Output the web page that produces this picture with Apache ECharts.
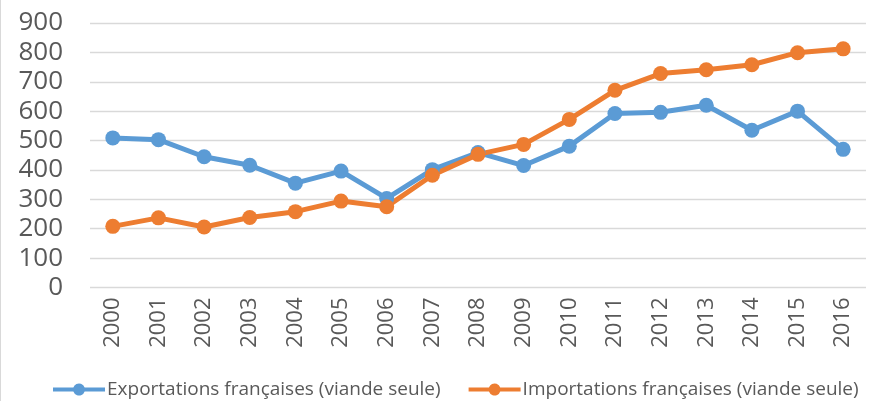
<!DOCTYPE html>
<html>
<head>
<meta charset="utf-8">
<script src="https://cdn.jsdelivr.net/npm/echarts@6/dist/echarts.min.js"></script>
<style>
  html, body { margin: 0; padding: 0; background: #fff; }
  #chart { width: 876px; height: 401px; box-sizing: border-box; border-left: 1px solid #d9d9d9; }
</style>
</head>
<body>
<div id="chart"></div>
<script>
// années
const years = ['2000', '2001', '2002', '2003', '2004', '2005', '2006', '2007', '2008',
  '2009', '2010', '2011', '2012', '2013', '2014', '2015', '2016'];
// valeurs
const exportations = [509, 503, 445, 416, 355, 396, 303, 401, 459, 415, 481, 592, 596, 620, 535, 600, 470];
const importations = [208, 237, 206, 238, 258, 294, 275, 382, 453, 487, 572, 671, 728, 741, 758, 799, 812];
const yTicks = [0, 100, 200, 300, 400, 500, 600, 700, 800, 900];

const chart = echarts.init(document.getElementById('chart'));
chart.setOption({
  animation: false,
  grid: {
    top: 23,
    left: 89,
    right: 10,
    bottom: 113.5
  },
  legend: {
    top: 375,
    left: 47,
    width: 860,
    itemGap: 28,
    itemWidth: 52,
    itemHeight: 14,
    icon: 'path://M0,5 L20.34,5 A6,6 0 0 1 31.66,5 L52,5 L52,9 L31.66,9 A6,6 0 0 1 20.34,9 L0,9 Z',
    textStyle: {
      fontFamily: 'Open Sans, sans-serif',
      fontSize: 19,
      color: '#595959',
      padding: [0, 0, 0, -3]
    },
    data: ['Exportations françaises (viande seule)', 'Importations françaises (viande seule)']
  },
  xAxis: {
    type: 'category',
    data: years,
    boundaryGap: true,
    axisLine: { show: false },
    axisTick: { show: false },
    axisLabel: {
      rotate: 90,
      margin: 10,
      fontSize: 22,
      color: '#595959',
      fontFamily: 'Open Sans, sans-serif'
    }
  },
  yAxis: {
    type: 'value',
    min: yTicks[0],
    max: yTicks[yTicks.length - 1],
    interval: 100,
    axisLine: { show: false },
    axisTick: { show: false },
    axisLabel: {
      margin: 27,
      fontSize: 26,
      color: '#595959',
      fontFamily: 'Open Sans, sans-serif'
    },
    splitLine: {
      lineStyle: { color: '#d9d9d9', width: 1.3 }
    }
  },
  series: [{
    name: 'Exportations françaises (viande seule)',
    type: 'line',
    data: exportations,
    symbol: 'circle',
    symbolSize: 15,
    lineStyle: { width: 5, color: '#5b9bd5' },
    itemStyle: { color: '#5b9bd5' }
  }, {
    name: 'Importations françaises (viande seule)',
    type: 'line',
    data: importations,
    symbol: 'circle',
    symbolSize: 15,
    lineStyle: { width: 5, color: '#ed7d31' },
    itemStyle: { color: '#ed7d31' }
  }]
});
</script>
</body>
</html>
